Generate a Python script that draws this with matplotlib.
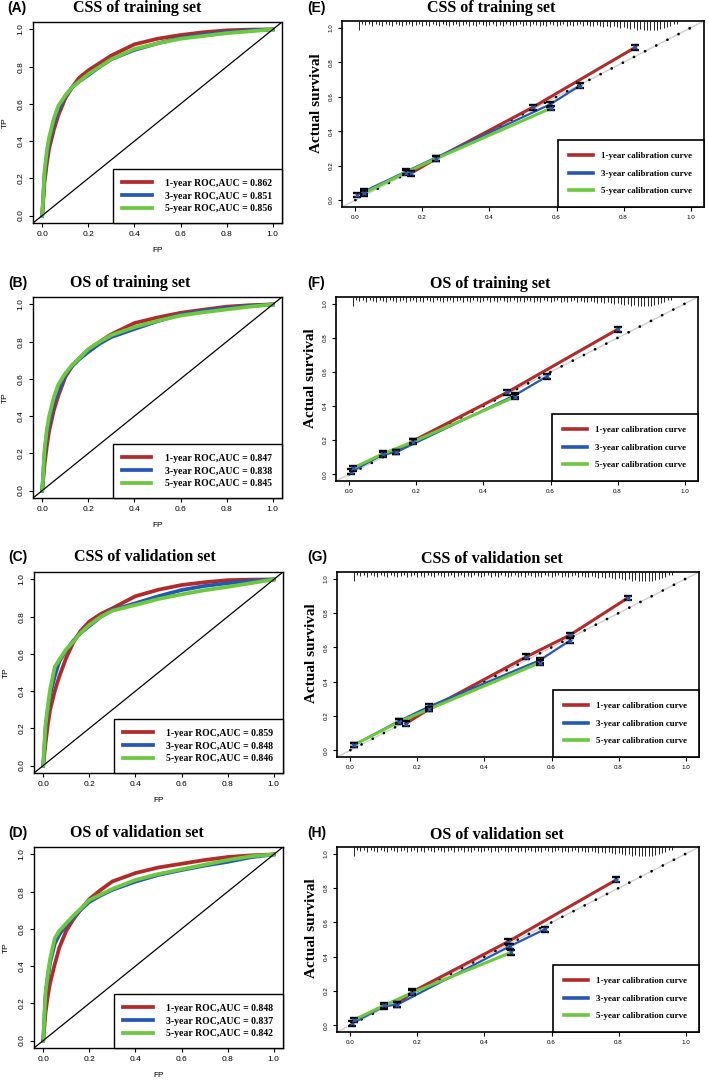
import numpy as np
import matplotlib
matplotlib.use('Agg')
import matplotlib.pyplot as plt

W, H = 709, 1081

years = ['1-year', '3-year', '5-year']
colors = ['#B22B2B', '#2458B3', '#6CC83F']

# ROC curves (false positive grid shared by all curves)
fp_grid = [0, 0.01, 0.02, 0.03, 0.05, 0.07, 0.1, 0.13, 0.16, 0.2, 0.25, 0.3, 0.4, 0.5, 0.6, 0.7, 0.8, 0.9, 1.0]

tp_css_train_1 = [0, 0.18, 0.28, 0.36, 0.46, 0.54, 0.63, 0.69, 0.74, 0.78, 0.82, 0.86, 0.92, 0.95, 0.97, 0.985, 0.995, 0.999, 1.0]
tp_css_train_3 = [0, 0.22, 0.32, 0.40, 0.50, 0.57, 0.64, 0.69, 0.72, 0.755, 0.80, 0.84, 0.89, 0.925, 0.955, 0.972, 0.985, 0.995, 1.0]
tp_css_train_5 = [0, 0.24, 0.35, 0.42, 0.52, 0.59, 0.645, 0.69, 0.72, 0.76, 0.80, 0.84, 0.895, 0.925, 0.95, 0.965, 0.98, 0.99, 1.0]

tp_os_train_1 = [0, 0.14, 0.24, 0.32, 0.43, 0.51, 0.61, 0.67, 0.71, 0.757, 0.80, 0.84, 0.90, 0.93, 0.955, 0.972, 0.988, 0.996, 1.0]
tp_os_train_3 = [0, 0.20, 0.30, 0.37, 0.47, 0.54, 0.62, 0.67, 0.705, 0.745, 0.79, 0.825, 0.868, 0.91, 0.945, 0.965, 0.98, 0.992, 1.0]
tp_os_train_5 = [0, 0.22, 0.33, 0.40, 0.50, 0.57, 0.63, 0.675, 0.71, 0.76, 0.80, 0.835, 0.878, 0.912, 0.94, 0.958, 0.973, 0.988, 1.0]

tp_css_valid_1 = [0, 0.12, 0.22, 0.30, 0.40, 0.48, 0.58, 0.66, 0.72, 0.774, 0.815, 0.845, 0.91, 0.945, 0.97, 0.985, 0.996, 0.999, 1.0]
tp_css_valid_3 = [0, 0.20, 0.30, 0.38, 0.48, 0.56, 0.62, 0.67, 0.71, 0.75, 0.80, 0.835, 0.872, 0.91, 0.943, 0.965, 0.98, 0.992, 1.0]
tp_css_valid_5 = [0, 0.22, 0.32, 0.41, 0.53, 0.57, 0.625, 0.665, 0.71, 0.756, 0.80, 0.832, 0.863, 0.895, 0.92, 0.942, 0.96, 0.98, 1.0]

tp_os_valid_1 = [0, 0.15, 0.24, 0.31, 0.41, 0.50, 0.59, 0.65, 0.70, 0.76, 0.81, 0.855, 0.90, 0.93, 0.95, 0.97, 0.986, 0.995, 1.0]
tp_os_valid_3 = [0, 0.24, 0.34, 0.42, 0.52, 0.57, 0.62, 0.66, 0.70, 0.745, 0.78, 0.81, 0.854, 0.89, 0.916, 0.94, 0.96, 0.985, 1.0]
tp_os_valid_5 = [0, 0.26, 0.36, 0.44, 0.55, 0.59, 0.63, 0.67, 0.705, 0.755, 0.785, 0.815, 0.863, 0.895, 0.92, 0.945, 0.97, 0.99, 1.0]

auc_css_train = [0.862, 0.851, 0.856]
auc_os_train = [0.847, 0.838, 0.845]
auc_css_valid = [0.859, 0.848, 0.846]
auc_os_valid = [0.848, 0.837, 0.842]

# calibration curves: predicted, actual
cal_css_train_1 = ([0.165, 0.24, 0.53, 0.835], [0.155, 0.24, 0.54, 0.887])
cal_css_train_3 = ([0.005, 0.025, 0.15, 0.58, 0.67], [0.03, 0.05, 0.165, 0.555, 0.665])
cal_css_train_5 = ([0.025, 0.15, 0.24, 0.585], [0.04, 0.16, 0.24, 0.535])

cal_os_train_1 = ([0.14, 0.19, 0.47, 0.80], [0.13, 0.195, 0.48, 0.85])
cal_os_train_3 = ([0.005, 0.10, 0.14, 0.495, 0.59], [0.015, 0.115, 0.13, 0.465, 0.575])
cal_os_train_5 = ([0.01, 0.10, 0.19, 0.495], [0.035, 0.12, 0.19, 0.455])

cal_css_valid_1 = ([0.165, 0.235, 0.525, 0.655, 0.827], [0.155, 0.24, 0.545, 0.672, 0.888])
cal_css_valid_3 = ([0.01, 0.145, 0.235, 0.565, 0.655], [0.03, 0.17, 0.255, 0.525, 0.64])
cal_css_valid_5 = ([0.01, 0.145, 0.235, 0.565], [0.03, 0.165, 0.24, 0.51])

cal_os_valid_1 = ([0.14, 0.185, 0.47, 0.793], [0.12, 0.195, 0.487, 0.848])
cal_os_valid_3 = ([0.005, 0.10, 0.14, 0.475, 0.58], [0.01, 0.11, 0.12, 0.46, 0.56])
cal_os_valid_5 = ([0.01, 0.10, 0.185, 0.48], [0.03, 0.115, 0.19, 0.425])

cal_err = 0.014

# spike histogram of predictions along the top
rug_heights = [0.055,
               0.02, 0.025, 0.02, 0.03, 0.02, 0.025, 0.03, 0.02, 0.025,
               0.03, 0.02, 0.025, 0.03, 0.025, 0.02, 0.03, 0.025, 0.02, 0.03,
               0.025, 0.03, 0.02, 0.025, 0.03, 0.02, 0.025, 0.03, 0.025, 0.02,
               0.03, 0.025, 0.02, 0.03, 0.025, 0.03, 0.02, 0.025, 0.03, 0.025,
               0.02, 0.03, 0.025, 0.03, 0.02, 0.025, 0.03, 0.025, 0.02, 0.03,
               0.025, 0.03, 0.02, 0.025, 0.03, 0.025, 0.03, 0.02, 0.025, 0.03,
               0.025, 0.02, 0.03, 0.025, 0.03, 0.025, 0.02, 0.03, 0.025, 0.03,
               0.03, 0.025, 0.03, 0.035, 0.03, 0.035, 0.03, 0.035, 0.04, 0.035,
               0.04, 0.045, 0.04, 0.05, 0.045, 0.05, 0.055, 0.05, 0.055, 0.05,
               0.045, 0.04, 0.035, 0.03, 0.02, 0.015]
rug_x = 0.01 * np.arange(1, len(rug_heights) + 1)

SERIF = 'Liberation Serif'
SANS = 'Liberation Sans'
ticks = [0, 0.2, 0.4, 0.6, 0.8, 1.0]

fig = plt.figure(figsize=(W / 100, H / 100), dpi=100)


def px_box(x0, y0, x1, y1):
    return [x0 / W, 1 - y1 / H, (x1 - x0) / W, (y1 - y0) / H]


def fig_text(x, y, s, **kw):
    fig.text(x / W, 1 - y / H, s, va='center', **kw)


def roc_panel(box, tag, tag_xy, title, title_xy, curves, aucs):
    ax = fig.add_axes(px_box(*box))
    for tp, col, yr, auc in zip(curves, colors, years, aucs):
        ax.plot(fp_grid, tp, color=col, lw=2.7, label=f'{yr} ROC,AUC = {auc:.3f}')
    ax.plot([-0.04, 1.04], [-0.04, 1.04], color='black', lw=0.9)
    ax.set_xlim(-0.04, 1.04)
    ax.set_ylim(-0.04, 1.04)
    ax.set_xticks(ticks)
    ax.set_yticks(ticks)
    ax.set_xticklabels([f'{t:.1f}' for t in ticks])
    ax.set_yticklabels([f'{t:.1f}' for t in ticks], rotation=90, va='center')
    ax.tick_params(length=3, width=0.8, labelsize=6, pad=3)
    for lab in ax.get_xticklabels() + ax.get_yticklabels():
        lab.set_fontfamily(SANS)
    for sp in ax.spines.values():
        sp.set_linewidth(1.0)
    ax.set_xlabel('FP', fontsize=6, fontfamily=SANS)
    ax.set_ylabel('TP', fontsize=6, fontfamily=SANS)
    ax.xaxis.set_label_coords(0.5, -24 / 201)
    ax.yaxis.set_label_coords(-24 / 249, 0.5)
    leg = ax.legend(loc='lower right', borderaxespad=0, fancybox=False, framealpha=1,
                    edgecolor='black', borderpad=1.0, labelspacing=0.38,
                    handlelength=3.0, handletextpad=1.4,
                    prop={'family': SERIF, 'weight': 'bold', 'size': 7})
    leg.get_frame().set_linewidth(1.0)
    fig_text(*tag_xy, tag, ha='left', fontfamily=SANS, fontweight='bold', fontsize=10)
    fig_text(*title_xy, title, ha='center', fontfamily=SERIF, fontweight='bold', fontsize=11.5)


def cal_panel(box, tag, tag_xy, title, title_xy, curves):
    ax = fig.add_axes(px_box(*box))
    ax.plot([-0.04, 1.04], [-0.04, 1.04], color='#CFCFCF', lw=1.0)
    ax.plot([0, 1.02], [0, 1.02], color='black', lw=2.0, ls=(0, (0.01, 4.5)),
            dash_capstyle='round')
    for (pred, obs), col, yr, lw in zip(curves, colors, years, [2.2, 1.6, 2.2]):
        ax.plot(pred, obs, color=col, lw=lw, label=f'{yr} calibration curve')
    for pred, obs in curves:
        ax.errorbar(pred, obs, yerr=cal_err, fmt='none', ecolor='black',
                    elinewidth=1.3, capsize=2.8, capthick=1.7)
        ax.plot(pred, obs, 'x', color='#2458B3', ms=3, mew=1.0)
    ax.vlines(rug_x, 1.04 - np.array(rug_heights), 1.04, color='black', lw=0.6)
    ax.set_xlim(-0.04, 1.04)
    ax.set_ylim(-0.04, 1.04)
    ax.set_xticks(ticks)
    ax.set_yticks(ticks)
    ax.set_xticklabels([f'{t:.1f}' for t in ticks])
    ax.set_yticklabels([f'{t:.1f}' for t in ticks], rotation=90, va='center')
    ax.tick_params(length=3, width=0.8, labelsize=4.5, pad=3)
    for lab in ax.get_xticklabels() + ax.get_yticklabels():
        lab.set_fontfamily(SANS)
    for sp in ax.spines.values():
        sp.set_linewidth(1.2)
    ax.set_ylabel('Actual survival', fontsize=11, fontfamily=SERIF, fontweight='bold')
    ax.yaxis.set_label_coords(-19 / 362, 0.56)
    leg = ax.legend(loc='lower right', borderaxespad=0, fancybox=False, framealpha=1,
                    edgecolor='black', borderpad=1.3, labelspacing=1.08,
                    handlelength=2.7, handletextpad=0.9,
                    prop={'family': SERIF, 'weight': 'bold', 'size': 6.4})
    leg.get_frame().set_linewidth(1.2)
    for ln in leg.get_lines():
        ln.set_linewidth(2.6)
    fig_text(*tag_xy, tag, ha='left', fontfamily=SANS, fontweight='bold', fontsize=10)
    fig_text(*title_xy, title, ha='center', fontfamily=SERIF, fontweight='bold', fontsize=11.5)


roc_panel((33, 22, 282, 223), '(A)', (7, 8), 'CSS of training set', (137, 8.5),
          [tp_css_train_1, tp_css_train_3, tp_css_train_5], auc_css_train)
roc_panel((33, 297, 282, 498), '(B)', (8, 283), 'OS of training set', (130, 283),
          [tp_os_train_1, tp_os_train_3, tp_os_train_5], auc_os_train)
roc_panel((34, 572, 283, 773), '(C)', (8, 557), 'CSS of validation set', (145, 557),
          [tp_css_valid_1, tp_css_valid_3, tp_css_valid_5], auc_css_valid)
roc_panel((34, 847, 283, 1048), '(D)', (8, 833), 'OS of validation set', (137, 833),
          [tp_os_valid_1, tp_os_valid_3, tp_os_valid_5], auc_os_valid)

cal_panel((342, 21, 704, 207), '(E)', (307, 8), 'CSS of training set', (491, 8.5),
          [cal_css_train_1, cal_css_train_3, cal_css_train_5])
cal_panel((336, 297, 698, 481), '(F)', (307, 283), 'OS of training set', (490, 284),
          [cal_os_train_1, cal_os_train_3, cal_os_train_5])
cal_panel((337, 572, 699, 757), '(G)', (307, 557), 'CSS of validation set', (492, 559),
          [cal_css_valid_1, cal_css_valid_3, cal_css_valid_5])
cal_panel((337, 847, 699, 1032), '(H)', (307, 833), 'OS of validation set', (497, 835),
          [cal_os_valid_1, cal_os_valid_3, cal_os_valid_5])

fig.savefig('out.png', dpi=100)
